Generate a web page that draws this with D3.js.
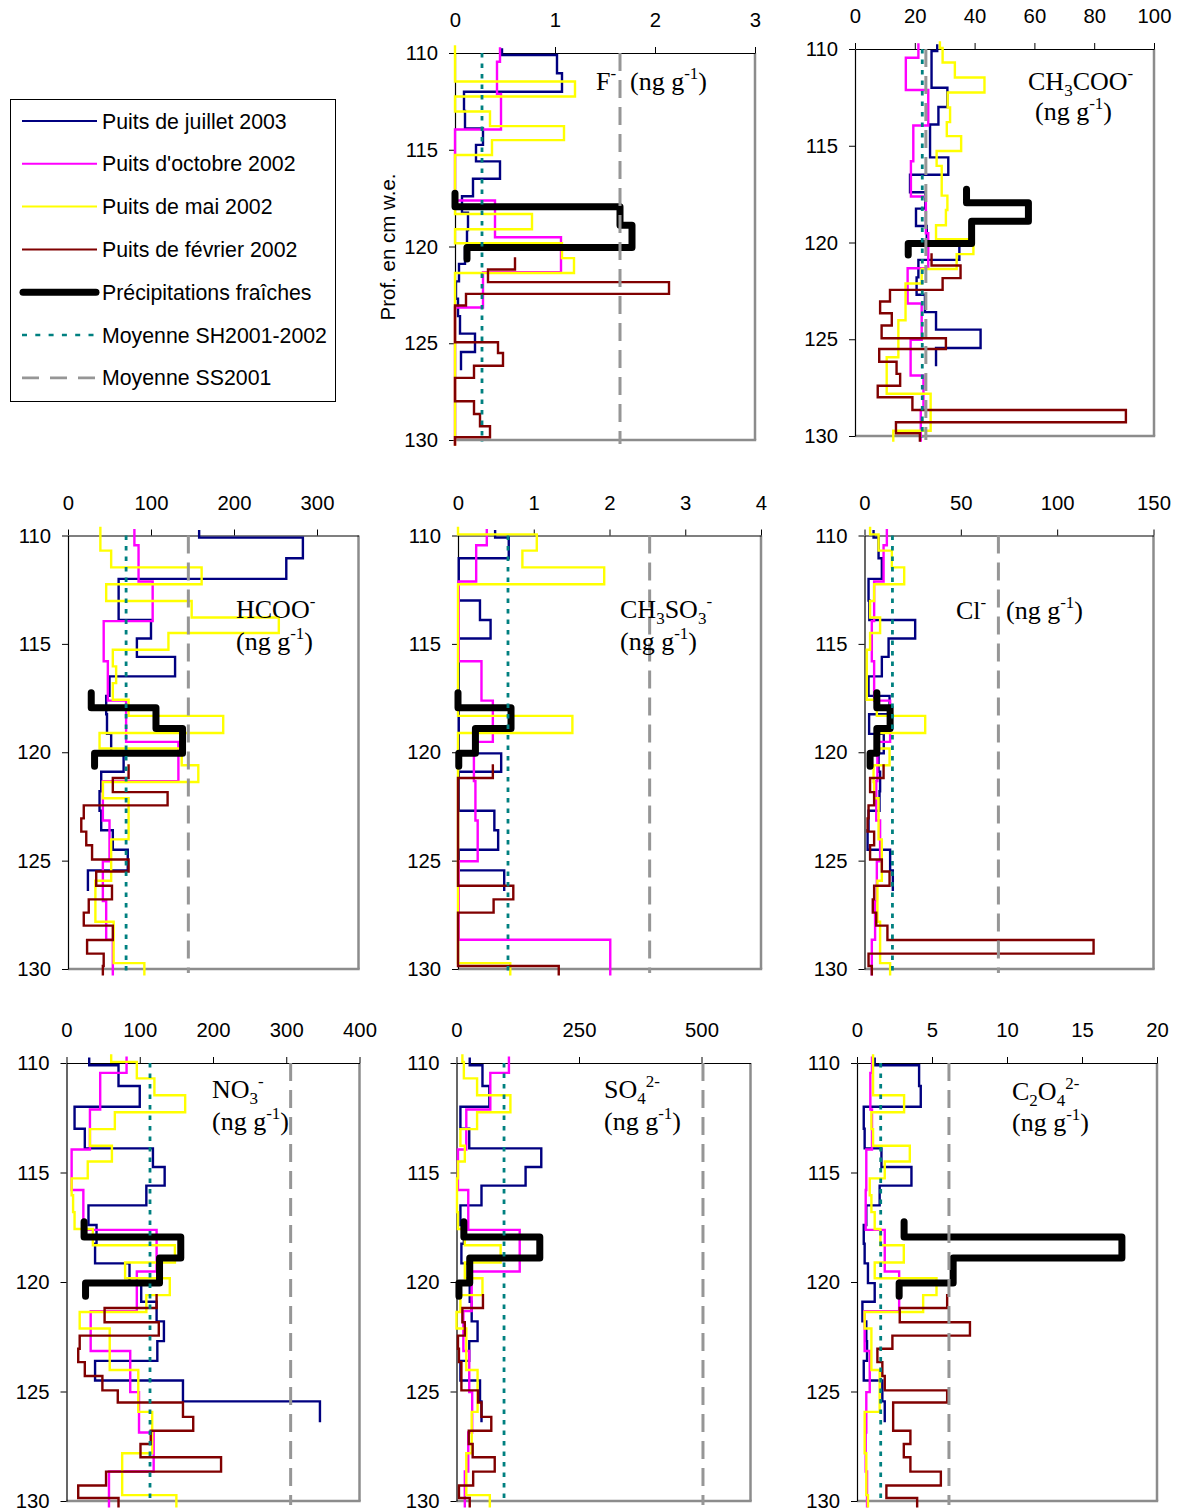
<!DOCTYPE html>
<html><head><meta charset="utf-8">
<script src="https://cdn.jsdelivr.net/npm/d3@7"></script>
<style>body{margin:0;background:#fff}svg{display:block}</style>
</head><body>
<svg id="c" width="1181" height="1511"></svg>
<script>
// ---- sample depth boundaries (cm w.e.) for each record ----
const depthJul03 = [109.75,110.1,111.05,112.0,113.0,113.9,114.75,115.6,116.5,117.4,118.25,119.15,120.05,120.9,121.8,122.7,123.6,124.5,125.45,126.4];
const depthOct02 = [109.7,110.45,112.12,113.95,115.8,117.62,119.52,121.33,123.15,125.03,126.87,128.65,130.3];
const depthMay02 = [109.6,109.95,110.7,111.47,112.25,113.02,113.78,114.5,115.27,116.04,116.81,117.58,118.32,119.11,119.83,120.6,121.37,122.12,124.02,125.93,127.82,129.73,130.3];
const depthFeb02 = [120.55,121.19,121.84,122.45,123.05,123.66,124.29,124.95,125.5,126.16,126.79,127.4,128.0,128.66,129.29,129.86,130.3];
const depthFresh = [117.25,117.95,118.9,120.05,120.65];

// ---- F- ----
const F_jul03 = [0.47,1.02,1.07,0.09,0.10,0.28,0.21,0.45,0.18,0.07,0.13,0.12,0.10,0.04,0.01,0.03,0.05,0.20,0.06];
const F_oct02 = [0.45,0.42,0.46,0,0,0.40,1.06,0.28,0,0,0,0];
const F_may02 = [0,0,0,1.2,0,0.35,1.09,0.37,0,0,0,0,0.77,0,1.07,1.19,0,0,0,0,0,0];
const F_feb02 = [0.6,0.33,2.14,0.11,0,0,0,0.43,0.48,0.19,0,0,0.19,0.25,0.35,0];
const F_fresh = [0,1.65,1.77,0.12];
// ---- CH3COO- ----
const A_jul03 = [27.5,25.6,25.6,30.9,27.9,25.1,25.1,31.2,18.4,23.5,20.4,24.0,34.9,21.2,20.6,23.4,27.1,42.0,27.1];
const A_oct02 = [21.2,17.0,24.5,19.5,18.7,23.7,24.5,17.6,22.3,18.6,22.9,22.0];
const A_may02 = [28.4,29.3,33.4,43.3,31.0,31.8,30.7,35.5,27.3,29.0,29.0,30.9,30.4,27.1,39.6,34.0,22.3,16.9,14.5,10.6,25.3,12.8];
const A_feb02 = [25.6,35.3,29.3,11.7,8.4,12.3,8.9,30.4,8.1,13.9,15.1,7.6,19.2,90.6,13.7,21.7];
const A_fresh = [37.3,58.0,39.0,17.8];
// ---- HCOO- ----
const H_jul03 = [158,283,263,61,61,100,83,129,50,46,47,52,67,40,38,40,54,72,24];
const H_oct02 = [80,85,102,43,48,70,133,42,50,42,46,54];
const H_may02 = [39,39,52,161,46,149,254,121,54,58,54,73,187,38,137,157,42,73,52,33,55,92];
const H_feb02 = [73,54,120,19,16,22,29,73,34,53,25,19,54,23,43,42];
const H_fresh = [28,106,138,32];
// ---- CH3SO3- ----
const M_jul03 = [0.49,0.67,0.01,0.01,0.29,0.43,0.01,0.01,0.01,0.01,0.01,0.01,0.57,0.01,0.01,0.48,0.53,0.01,0.61];
const M_oct02 = [0.38,0.24,0.01,0.01,0.31,0.46,0.21,0.23,0.26,0.01,0.01,2.01];
const M_may02 = [0,1.04,0.85,1.93,0,0,0,0,0,0,0,0,1.51,0,0,0,0,0,0,0,0,0.69];
const M_feb02 = [0.46,0,0,0,0,0,0,0,0,0.73,0.47,0,0,0,0,1.33];
const M_fresh = [0,0.70,0.23,0.01];
// ---- Cl- ----
const C_jul03 = [4.7,7.3,9.0,2.1,2.5,26.3,12.5,9.0,2.1,13,2.4,10,7.3,8.1,7.8,2.1,1.6,13.3,14.7];
const C_oct02 = [11.6,9.9,5.0,3.8,5.0,13.3,6.7,6.1,8.1,6.4,5.5,3.8];
const C_may02 = [2.9,7.3,14.2,20.6,5.0,2.9,8.1,2.9,1.2,1.2,1.2,6.4,31.5,6.4,13.0,4.7,5.0,7.3,9.0,6.7,8.1,13.3];
const C_feb02 = [9.9,2.9,5.0,2.1,1.6,5.0,2.9,9.0,13.0,5.0,4.3,6.1,11.9,118.9,2.1,3.8];
const C_fresh = [6.4,13.3,6.4,2.9];
// ---- NO3- ----
const N_jul03 = [31,71,100,11,25,118,134,109,30,41,39,86,102,123,133,124,39,159,346];
const N_oct02 = [82,46,32,7,23,123,96,33,87,99,119,58];
const N_may02 = [61,96,120,162,66,32,62,29,7,9,11,36,148,80,141,109,18,59,98,117,76,150];
const N_feb02 = [123,52,126,18,16,25,49,70,159,173,115,101,211,54,16,71];
const N_fresh = [24,156,127,26];
// ---- SO4 2- ----
const S_jul03 = [27,53,67,8,26,173,141,51,8,15,10,27,27,31,43,26,8,48,51];
const S_oct02 = [107,69,20,3,24,129,31,14,26,32,24,17];
const S_may02 = [12,15,42,110,42,8,17,3,1,1,3,17,90,17,53,8,0,20,43,31,20,68];
const S_feb02 = [54,12,17,3,5,10,10,44,51,71,25,33,78,34,5,27];
const S_fresh = [15,170,27,5];
// ---- C2O4 2- ----
const O_jul03 = [1.18,4.14,4.25,0.45,0.51,1.63,3.63,1.51,0.62,0.45,0.51,0.73,1.18,0.36,0.62,0.67,0.45,1.69,1.85];
const O_oct02 = [1.0,0.89,1.0,0.62,0.58,1.85,2.81,0.51,0.85,0.62,0.58,0.67];
const O_may02 = [1.07,1.07,1.07,3.14,0.96,1.07,3.52,1.85,0.85,0.96,1.18,1.56,3.12,1.18,5.3,4.41,0.51,0.96,1.51,0.51,0.62,0.73];
const O_feb02 = [6.01,2.85,7.53,2.36,1.36,1.69,1.85,6.01,2.41,2.41,3.56,3.12,3.56,5.59,1.96,4.01];
const O_fresh = [3.14,17.66,6.41,2.81];

// means: SH2001-2002 and SS2001, in panel order F, CH3COO, HCOO, CH3SO3, Cl, NO3, SO4, C2O4
const meanSH = [0.27,22.5,70,0.66,14.5,114,97,1.58];
const meanSS = [1.65,23.7,145,2.53,69.5,306,503,6.13];
const depthTicks = [110,115,120,125,130];
const legendLabels = ["Puits de juillet 2003","Puits d'octobre 2002","Puits de mai 2002","Puits de février 2002","Précipitations fraîches","Moyenne SH2001-2002","Moyenne SS2001"];

const seriesStyle = [
  {color:"#000080", w:2.4, depth:depthJul03},
  {color:"#FF00FF", w:2.4, depth:depthOct02},
  {color:"#FFFF00", w:2.4, depth:depthMay02},
  {color:"#800000", w:2.4, depth:depthFeb02},
  {color:"#000000", w:7,   depth:depthFresh, round:true}
];

const panels = [
 {x0:455,x1:755,y0:53,y1:440,max:3,ticks:[0,1,2,3],data:[F_jul03,F_oct02,F_may02,F_feb02,F_fresh],
  labels:[[596,90,[["F"],["-","sup"]]],[630,90,[["(ng g"],["-1","sup"],[")"]]]]},
 {x0:855,x1:1154,y0:49,y1:436,max:100,ticks:[0,20,40,60,80,100],data:[A_jul03,A_oct02,A_may02,A_feb02,A_fresh],
  labels:[[1028,90,[["CH"],["3","sub"],["COO"],["-","sup"]]],[1035,120,[["(ng g"],["-1","sup"],[")"]]]]},
 {x0:68,x1:358.5,y0:535.5,y1:969,max:350,ticks:[0,100,200,300],data:[H_jul03,H_oct02,H_may02,H_feb02,H_fresh],
  labels:[[236,618,[["HCOO"],["-","sup"]]],[236,650,[["(ng g"],["-1","sup"],[")"]]]]},
 {x0:458,x1:761,y0:535.5,y1:969,max:4,ticks:[0,1,2,3,4],data:[M_jul03,M_oct02,M_may02,M_feb02,M_fresh],
  labels:[[620,618,[["CH"],["3","sub"],["SO"],["3","sub"],["-","sup"]]],[620,650,[["(ng g"],["-1","sup"],[")"]]]]},
 {x0:864.5,x1:1153.5,y0:535.5,y1:969,max:150,ticks:[0,50,100,150],data:[C_jul03,C_oct02,C_may02,C_feb02,C_fresh],
  labels:[[956,619,[["Cl"],["-","sup"]]],[1006,619,[["(ng g"],["-1","sup"],[")"]]]]},
 {x0:66.5,x1:359.5,y0:1063,y1:1501,max:400,ticks:[0,100,200,300,400],data:[N_jul03,N_oct02,N_may02,N_feb02,N_fresh],
  labels:[[212,1098,[["NO"],["3","sub"],["-","sup"]]],[212,1130,[["(ng g"],["-1","sup"],[")"]]]]},
 {x0:456.5,x1:750.5,y0:1063,y1:1501,max:600,ticks:[0,250,500],data:[S_jul03,S_oct02,S_may02,S_feb02,S_fresh],
  labels:[[604,1098,[["SO"],["4","sub"],["2-","sup"]]],[604,1130,[["(ng g"],["-1","sup"],[")"]]]]},
 {x0:857,x1:1157,y0:1063,y1:1501,max:20,ticks:[0,5,10,15,20],data:[O_jul03,O_oct02,O_may02,O_feb02,O_fresh],
  labels:[[1012,1100,[["C"],["2","sub"],["O"],["4","sub"],["2-","sup"]]],[1012,1131,[["(ng g"],["-1","sup"],[")"]]]]}
];

const svg = d3.select("#c");
const SANS = "'Liberation Sans', Arial, sans-serif";
const SERIF = "'Liberation Serif', 'Times New Roman', serif";

function richText(g, x, y, parts){
  const t = g.append("text").attr("x",x).attr("y",y)
    .attr("font-family",SERIF).attr("font-size",26).attr("fill","#000");
  let off = 0;
  parts.forEach(p=>{
    let target = 0, size = 26;
    if(p[1]==="sub"){target = 6; size = 17;}
    if(p[1]==="sup"){target = -11; size = 17;}
    t.append("tspan").attr("dy", target-off).attr("font-size",size).text(p[0]);
    off = target;
  });
}

panels.forEach((p,pi)=>{
  const x = d3.scaleLinear().domain([0,p.max]).range([p.x0,p.x1]);
  const y = d3.scaleLinear().domain([110,130]).range([p.y0,p.y1]);
  const g = svg.append("g");
  // grey right & bottom frame
  g.append("line").attr("x1",p.x1).attr("x2",p.x1).attr("y1",p.y0).attr("y2",p.y1)
    .attr("stroke","#8c8c8c").attr("stroke-width",2.5);
  g.append("line").attr("x1",p.x0).attr("x2",p.x1+1.2).attr("y1",p.y1).attr("y2",p.y1)
    .attr("stroke","#8c8c8c").attr("stroke-width",2.5);
  // axes
  const ax = g.append("g").attr("transform",`translate(0,${p.y0})`)
    .call(d3.axisTop(x).tickValues(p.ticks).tickFormat(d3.format("d")).tickSize(6).tickSizeOuter(0).tickPadding(20));
  const ay = g.append("g").attr("transform",`translate(${p.x0},0)`)
    .call(d3.axisLeft(y).tickValues(depthTicks).tickFormat(d3.format("d")).tickSize(6).tickSizeOuter(0).tickPadding(11));
  [ax,ay].forEach(a=>{
    a.selectAll("text").attr("font-family",SANS).attr("font-size",20.3).attr("fill","#000");
    a.select(".domain").attr("stroke","#000").attr("stroke-width",1.2);
    a.selectAll(".tick line").attr("stroke","#000");
  });
  ax.selectAll("text").attr("dy","0em");
  // series
  p.data.forEach((vals,si)=>{
    const st = seriesStyle[si];
    const pts = vals.map((v,i)=>[v, st.depth[i]]);
    pts.push([vals[vals.length-1], st.depth[vals.length]]);
    const line = d3.line().x(d=>x(d[0])).y(d=>y(d[1])).curve(d3.curveStepBefore);
    g.append("path").attr("d",line(pts)).attr("fill","none")
      .attr("stroke",st.color).attr("stroke-width",st.w)
      .attr("stroke-linejoin",st.round?"round":"miter")
      .attr("stroke-linecap",st.round?"round":"butt");
  });
  // mean lines
  g.append("line").attr("x1",x(meanSH[pi])).attr("x2",x(meanSH[pi])).attr("y1",p.y0).attr("y2",p.y1+2)
    .attr("stroke","#008080").attr("stroke-width",2.8).attr("stroke-dasharray","4.5,6");
  g.append("line").attr("x1",x(meanSS[pi])).attr("x2",x(meanSS[pi])).attr("y1",p.y0).attr("y2",p.y1+4)
    .attr("stroke","#969696").attr("stroke-width",3).attr("stroke-dasharray","18,9");
  // labels
  p.labels.forEach(l=>richText(g,l[0],l[1],l[2]));
});

// y-axis title
svg.append("text").attr("transform","translate(395,247) rotate(-90)")
  .attr("text-anchor","middle").attr("font-family",SANS).attr("font-size",20.5)
  .text("Prof. en cm w.e.");

// legend
const lg = svg.append("g");
lg.append("rect").attr("x",10.5).attr("y",99.5).attr("width",325).attr("height",302)
  .attr("fill","#fff").attr("stroke","#000").attr("stroke-width",1);
const legendStyles = [
  {c:"#000080",w:2},{c:"#FF00FF",w:2},{c:"#FFFF00",w:2},{c:"#800000",w:2},
  {c:"#000",w:7,round:true},{c:"#008080",w:2.6,dash:"5,8.3"},{c:"#969696",w:2.8,dash:"17,11"}
];
legendLabels.forEach((lab,i)=>{
  const yy = 121 + i*42.8;
  const s = legendStyles[i];
  lg.append("line").attr("x1",s.round?23:22).attr("x2",s.round?96:97).attr("y1",yy).attr("y2",yy)
    .attr("stroke",s.c).attr("stroke-width",s.w)
    .attr("stroke-linecap",s.round?"round":"butt")
    .attr("stroke-dasharray",s.dash||null);
  lg.append("text").attr("x",102).attr("y",yy).attr("dy","0.36em")
    .attr("font-family",SANS).attr("font-size",21.3).text(lab);
});
</script>
</body></html>
